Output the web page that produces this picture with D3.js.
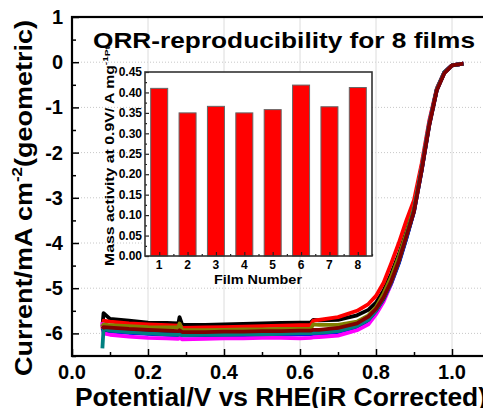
<!DOCTYPE html>
<html lang="en">
<head>
<meta charset="UTF-8" />
<title>ORR reproducibility</title>
<script src="https://d3js.org/d3.v7.min.js"></script>
<style>
  body { margin: 0; background: #fff; }
  svg { display: block; font-family: "Liberation Sans", Arial, sans-serif; font-weight: bold; }
</style>
</head>
<body>
<script>
// potential (V) shared by all films
const potential = [0.08, 0.083, 0.1, 0.15, 0.2, 0.25, 0.28, 0.283, 0.29, 0.35, 0.4, 0.45, 0.5, 0.55, 0.6, 0.628, 0.635, 0.65, 0.7, 0.75, 0.78, 0.8, 0.82, 0.84, 0.86, 0.88, 0.9, 0.92, 0.94, 0.96, 0.98, 1.0, 1.03];

const film1 = [-5.85, -5.55, -5.68, -5.72, -5.76, -5.77, -5.78, -5.64, -5.81, -5.81, -5.8, -5.79, -5.78, -5.77, -5.76, -5.76, -5.7, -5.71, -5.7, -5.6, -5.48, -5.32, -5.05, -4.68, -4.25, -3.75, -3.2, -2.35, -1.36, -0.6, -0.23, -0.07, -0.03];
const film2 = [-5.9, -5.72, -5.74, -5.78, -5.8, -5.82, -5.83, -5.8, -5.88, -5.87, -5.86, -5.85, -5.84, -5.83, -5.82, -5.82, -5.72, -5.7, -5.64, -5.5, -5.35, -5.17, -4.88, -4.45, -4.0, -3.5, -3.05, -2.25, -1.3, -0.58, -0.22, -0.07, -0.03];
const film3 = [-5.9, -5.95, -5.96, -5.99, -6.01, -6.03, -6.04, -6.03, -6.05, -6.05, -6.04, -6.04, -6.03, -6.03, -6.02, -6.02, -6.01, -6.01, -5.97, -5.86, -5.72, -5.52, -5.25, -4.9, -4.45, -3.9, -3.3, -2.4, -1.38, -0.6, -0.22, -0.07, -0.03];
const film4 = [-5.75, -6.0, -6.03, -6.07, -6.1, -6.11, -6.12, -6.1, -6.13, -6.12, -6.11, -6.11, -6.1, -6.1, -6.11, -6.1, -6.09, -6.08, -6.05, -5.93, -5.8, -5.58, -5.3, -4.9, -4.4, -3.85, -3.25, -2.35, -1.35, -0.6, -0.22, -0.07, -0.03];
const film5 = [-5.85, -5.8, -5.82, -5.84, -5.86, -5.87, -5.87, -5.78, -5.93, -5.93, -5.92, -5.91, -5.91, -5.9, -5.9, -5.9, -5.8, -5.81, -5.81, -5.74, -5.6, -5.42, -5.12, -4.75, -4.3, -3.78, -3.22, -2.35, -1.37, -0.6, -0.22, -0.07, -0.03];
const film6 = [-5.88, -5.92, -5.93, -5.95, -5.97, -5.99, -6.0, -5.99, -6.01, -6.0, -6.0, -5.99, -5.99, -5.98, -5.98, -5.98, -5.97, -5.96, -5.93, -5.83, -5.7, -5.5, -5.24, -4.88, -4.43, -3.88, -3.3, -2.4, -1.4, -0.62, -0.23, -0.07, -0.03];
const film7 = [-6.33, -5.9, -5.94, -5.97, -6.0, -6.02, -6.03, -6.02, -6.04, -6.03, -6.03, -6.02, -6.02, -6.01, -6.0, -6.0, -5.99, -5.99, -5.95, -5.84, -5.7, -5.5, -5.22, -4.87, -4.42, -3.87, -3.28, -2.38, -1.37, -0.6, -0.22, -0.07, -0.03];
const film8 = [-5.9, -5.86, -5.87, -5.9, -5.92, -5.94, -5.95, -5.93, -5.97, -5.97, -5.96, -5.96, -5.95, -5.95, -5.94, -5.94, -5.92, -5.92, -5.88, -5.78, -5.63, -5.46, -5.2, -4.85, -4.4, -3.85, -3.3, -2.4, -1.4, -0.62, -0.24, -0.07, -0.03];

const curves = [film1, film2, film3, film4, film5, film6, film7, film8];
const curveColors = ["#000000", "#ff0000", "#0000ff", "#ff00ff", "#808000", "#000080", "#008080", "#800000"];

// inset: mass activity per film
const filmNumbers = [1, 2, 3, 4, 5, 6, 7, 8];
const massActivity = [0.41, 0.35, 0.366, 0.35, 0.358, 0.418, 0.365, 0.412];

const xTicks = [0, 0.2, 0.4, 0.6, 0.8, 1.0];
const yTicks = [1, 0, -1, -2, -3, -4, -5, -6];
const insetTicks = [0, 0.05, 0.1, 0.15, 0.2, 0.25, 0.3, 0.35, 0.4, 0.45];

const W = 483, H = 408;
const svg = d3.select("body").append("svg").attr("width", W).attr("height", H);

const x = d3.scaleLinear().domain([0, 1.1]).range([72, 490]);
const y = d3.scaleLinear().domain([-6.5, 1]).range([356, 17]);

// grid
svg.append("g").selectAll("line").data(yTicks).join("line")
  .attr("x1", x(0)).attr("x2", x(1.1)).attr("y1", d => y(d)).attr("y2", d => y(d))
  .attr("stroke", "#c8c8c8").attr("stroke-width", 1).attr("stroke-dasharray", "1,2");
svg.append("g").selectAll("line").data(xTicks.slice(1)).join("line")
  .attr("x1", d => x(d)).attr("x2", d => x(d)).attr("y1", y(1)).attr("y2", y(-6.5))
  .attr("stroke", "#dcdcdc").attr("stroke-width", 1);

// curves
const line = d3.line().x((d, i) => x(potential[i])).y(d => y(d));
svg.append("g").selectAll("path").data(curves).join("path")
  .attr("d", line)
  .attr("fill", "none")
  .attr("stroke", (d, i) => curveColors[i])
  .attr("stroke-width", 3.8)
  .attr("stroke-linejoin", "round");

// axes (ticks inward)
const xAxis = d3.axisTop(x).tickValues(d3.range(0, 1.11, 0.1)).tickSize(4).tickFormat("");
svg.append("g").attr("transform", `translate(0,${y(-6.5)})`).call(xAxis)
  .call(g => g.selectAll(".tick line").attr("stroke-width", 1.5)
    .attr("y2", (d, i) => i % 2 === 0 ? -7 : -4));
const yAxis = d3.axisRight(y).tickValues(d3.range(-6.5, 1.01, 0.5)).tickSize(4).tickFormat("");
svg.append("g").attr("transform", `translate(${x(0)},0)`).call(yAxis)
  .call(g => g.selectAll(".tick line").attr("stroke-width", 1.5)
    .attr("x2", (d, i) => i % 2 === 1 ? 7 : 4));
svg.selectAll(".domain").remove();

svg.append("rect").attr("x", x(0)).attr("y", y(1)).attr("width", x(1.1) - x(0)).attr("height", y(-6.5) - y(1))
  .attr("fill", "none").attr("stroke", "#000").attr("stroke-width", 2.2);

// tick labels
svg.append("g").selectAll("text").data(xTicks).join("text")
  .attr("x", d => x(d)).attr("y", 379).attr("text-anchor", "middle")
  .attr("font-size", 20).text(d => d.toFixed(1));
svg.append("g").selectAll("text").data(yTicks).join("text")
  .attr("x", 63).attr("y", d => y(d)).attr("dy", "0.35em").attr("text-anchor", "end")
  .attr("font-size", 20).text(d => d);

// axis titles
svg.append("text").attr("x", 75).attr("y", 406).attr("font-size", 25)
  .attr("textLength", 412).attr("lengthAdjust", "spacingAndGlyphs")
  .text("Potential/V vs RHE(iR Corrected)");
const yl = svg.append("text").attr("transform", "translate(32,198) rotate(-90)")
  .attr("text-anchor", "middle").attr("font-size", 24).attr("textLength", 356).attr("lengthAdjust", "spacingAndGlyphs");
yl.append("tspan").text("Current/mA cm");
yl.append("tspan").attr("font-size", 15).attr("dy", -10).text("-2");
yl.append("tspan").attr("dy", 10).text("(geometric)");

// title
svg.append("text").attr("x", 93).attr("y", 48).attr("font-size", 22)
  .attr("textLength", 382).attr("lengthAdjust", "spacingAndGlyphs")
  .text("ORR-reproducibility for 8 films");

// inset
const ix = d3.scaleLinear().domain([0.5, 8.5]).range([145, 372]);
const iy = d3.scaleLinear().domain([0, 0.45]).range([256, 72]);
const inset = svg.append("g");
inset.append("rect").attr("x", ix(0.5)).attr("y", iy(0.45)).attr("width", ix(8.5) - ix(0.5)).attr("height", iy(0) - iy(0.45))
  .attr("fill", "#fff");
inset.append("g").selectAll("rect").data(massActivity).join("rect")
  .attr("x", (d, i) => ix(filmNumbers[i]) - 8.5).attr("width", 17)
  .attr("y", d => iy(d)).attr("height", d => iy(0) - iy(d))
  .attr("fill", "#ff0000").attr("stroke", "#666").attr("stroke-width", 1);
inset.append("g").attr("transform", `translate(0,${iy(0)})`)
  .call(d3.axisTop(ix).tickValues(d3.range(1, 8.6, 0.5)).tickSize(4).tickFormat(""))
  .call(g => g.selectAll(".tick line").attr("stroke", "#222").attr("stroke-width", 1.2)
    .attr("y2", (d, i) => i % 2 === 0 ? -4 : -2));
inset.append("g").attr("transform", `translate(${ix(0.5)},0)`)
  .call(d3.axisRight(iy).tickValues(d3.range(0, 0.451, 0.025)).tickSize(4).tickFormat(""))
  .call(g => g.selectAll(".tick line").attr("stroke", "#222").attr("stroke-width", 1.2)
    .attr("x2", (d, i) => i % 2 === 0 ? 4 : 2));
inset.selectAll(".domain").remove();
inset.append("rect").attr("x", ix(0.5)).attr("y", iy(0.45)).attr("width", ix(8.5) - ix(0.5)).attr("height", iy(0) - iy(0.45))
  .attr("fill", "none").attr("stroke", "#333").attr("stroke-width", 1.6);
inset.append("g").selectAll("text").data(filmNumbers).join("text")
  .attr("x", d => ix(d)).attr("y", 269).attr("text-anchor", "middle").attr("font-size", 12).text(d => d);
inset.append("g").selectAll("text").data(insetTicks).join("text")
  .attr("x", 142).attr("y", d => iy(d)).attr("dy", "0.35em").attr("text-anchor", "end")
  .attr("font-size", 12).text(d => d.toFixed(2));
inset.append("text").attr("x", 258).attr("y", 284).attr("text-anchor", "middle").attr("font-size", 13)
  .attr("textLength", 88).attr("lengthAdjust", "spacingAndGlyphs")
  .text("Film Number");
const il = inset.append("text").attr("transform", "translate(114,156) rotate(-90)")
  .attr("text-anchor", "middle").attr("font-size", 12.5).attr("textLength", 220).attr("lengthAdjust", "spacingAndGlyphs");
il.append("tspan").text("Mass activity at 0.9V/ A mg");
il.append("tspan").attr("font-size", 8).attr("dy", -6).text("-1");
il.append("tspan").attr("font-size", 8).attr("dy", 2).text("Pt");
</script>
</body>
</html>
